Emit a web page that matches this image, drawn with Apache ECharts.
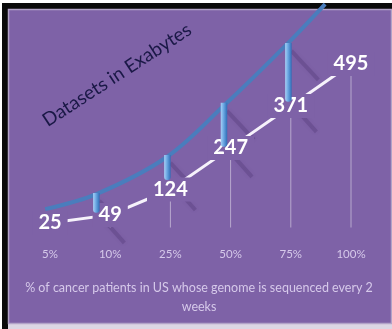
<!DOCTYPE html>
<html><head><meta charset="utf-8">
<script src="https://cdn.jsdelivr.net/npm/echarts@6/dist/echarts.min.js"></script>
<style>html,body{margin:0;padding:0;background:#fff;}#c{width:392px;height:329px;}</style>
</head><body><div id="c"></div>
<script>
// ---- data ----
const categories = ['5%', '10%', '25%', '50%', '75%', '100%'];
const datasets = [25, 49, 124, 247, 371, 495];
// decorative blue growth curve (x in category units, y in exabytes)
const curveX = [-0.08, 0.78, 1.94, 2.89, 3.95, 4.57];
const curveY = [66, 111, 220, 372, 556, 672];
// blue vertical markers hanging from the curve
const markerX = [0.77, 1.95, 2.89, 3.96];
const markerTop = [114, 226, 380, 557];
const markerBottom = [55, 152, 250, 383];
const titleText = 'Datasets in Exabytes';
const axisTitleLines = ['% of cancer patients in US whose genome is sequenced every 2', 'weeks'];

const PURPLE = '#7e62a7';
const chart = echarts.init(document.getElementById('c'), null, {renderer: 'canvas'});

const curveData = curveX.map((x, i) => [x, curveY[i]]);
const markerData = markerX.map((x, i) => [x, markerTop[i], markerBottom[i]]);

const option = {
  animation: false,
  backgroundColor: '#ffffff',
  grid: {left: 19.9, right: 10.9, top: 0, bottom: 101.6, containLabel: false},
  xAxis: [
    {type: 'category', data: categories, boundaryGap: true,
     axisLine: {show: false}, axisTick: {show: false}, splitLine: {show: false},
     axisLabel: {color: '#d6c9ea', fontFamily: 'Lato', fontSize: 11.5, margin: 21}},
    {type: 'value', min: -0.5, max: 5.5, show: false}
  ],
  yAxis: {type: 'value', min: 12, max: 684, show: false, splitLine: {show: false}},
  graphic: {elements: [
    {type: 'rect', z: -10, shape: {x: 2, y: 3, width: 392, height: 330}, style: {fill: '#0a0a0a'}},
    {type: 'rect', z: -9, shape: {x: 8, y: 324, width: 386, height: 6}, style: {fill: '#dcd6e4'}},
    {type: 'rect', z: -8, shape: {x: 8.5, y: 9.5, width: 383, height: 314}, style: {fill: PURPLE, stroke: '#b2a3c8', lineWidth: 1.5}},
    {type: 'text', z: 10, x: 117, y: 75, rotation: 33 * Math.PI / 180,
     style: {text: titleText, font: '19px Lato', fill: '#1a1846', align: 'center', verticalAlign: 'middle'}},
    {type: 'text', z: 10, x: 199, y: 297,
     style: {text: axisTitleLines.join('\n'), font: '12.5px Lato', lineHeight: 19, fill: '#d6c9ea', align: 'center', verticalAlign: 'middle'}}
  ]},
  series: [
    // thin drop lines
    {type: 'bar', data: datasets, barWidth: 1, z: 1,
     itemStyle: {color: 'rgba(255,255,255,0.45)'}, silent: true},
    // shadow streaks
    {type: 'custom', xAxisIndex: 1, data: markerData, z: 1, silent: true,
     renderItem: function (params, api) {
       const p1 = api.coord([api.value(0), api.value(1)]);
       const p2 = api.coord([api.value(0), api.value(2)]);
       const len = p2[1] - p1[1];
       const st = {stroke: 'rgba(55,30,90,0.22)', lineWidth: 4, shadowBlur: 4, shadowColor: 'rgba(55,30,90,0.3)'};
       return {type: 'group', children: [
         {type: 'line', shape: {x1: p1[0] + 3, y1: p1[1] + 8, x2: p1[0] + 3 + Math.min(len, 36) * 0.75, y2: p1[1] + 8 + Math.min(len, 36) * 0.8}, style: st},
         {type: 'line', shape: {x1: p2[0] + 3, y1: p2[1] + 2, x2: p2[0] + 28, y2: p2[1] + 30}, style: st}
       ]};
     }},
    // main data line
    {type: 'line', data: datasets, z: 3, symbol: 'circle', symbolSize: 0, showSymbol: true,
     itemStyle: {color: 'rgba(0,0,0,0)'},
     lineStyle: {color: '#f6f2fb', width: 3},
     label: {show: true, position: 'inside', color: '#ffffff', fontFamily: 'Lato', fontWeight: 'bold', fontSize: 20,
             backgroundColor: PURPLE, padding: [2, 6]}},
    // blue curve
    {type: 'line', xAxisIndex: 1, data: curveData, z: 4, symbol: 'none', smooth: 0.35,
     lineStyle: {color: '#4a7dbd', width: 4}},
    // blue markers
    {type: 'custom', xAxisIndex: 1, data: markerData, z: 5, silent: true,
     renderItem: function (params, api) {
       const p1 = api.coord([api.value(0), api.value(1)]);
       const p2 = api.coord([api.value(0), api.value(2)]);
       const w = 6.5;
       return {type: 'rect', shape: {x: p1[0] - w / 2, y: p1[1], width: w, height: p2[1] - p1[1], r: [0, 0, 3, 3]},
         style: {fill: new echarts.graphic.LinearGradient(0, 0, 1, 0, [
           {offset: 0, color: '#a8d0f6'}, {offset: 0.45, color: '#6aa7e2'}, {offset: 1, color: '#2f6cb6'}])}};
     }}
  ]
};
chart.setOption(option);
</script></body></html>
